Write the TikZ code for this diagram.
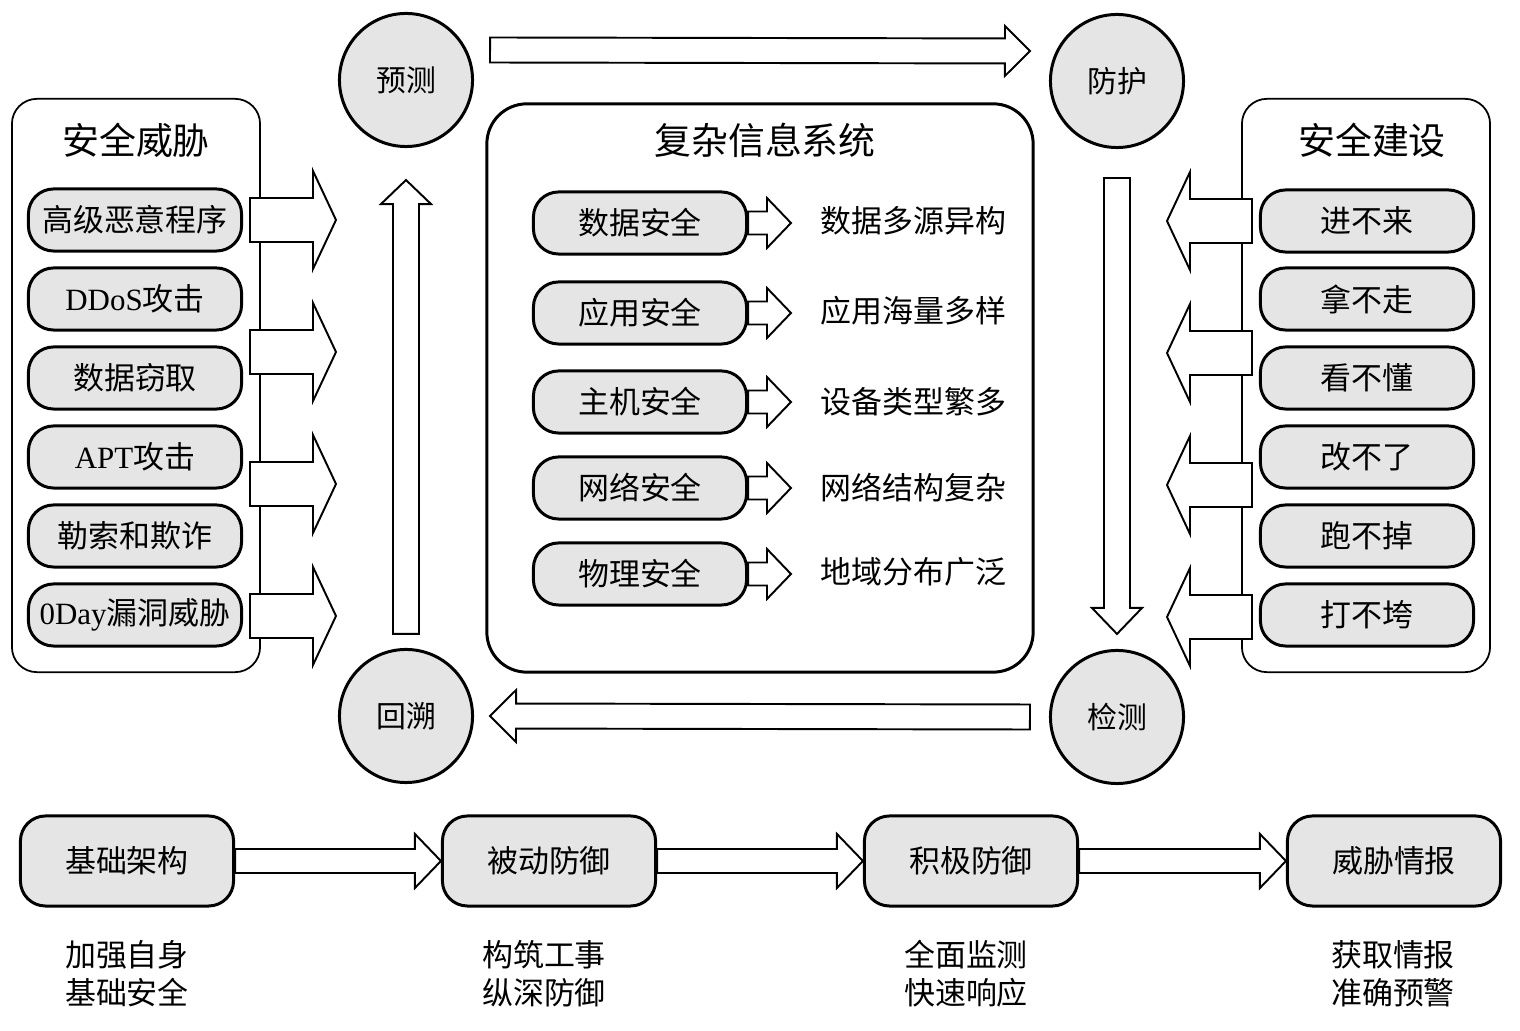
\documentclass[tikz,border=0pt]{standalone}
\usepackage{fontspec}
\setmainfont{Noto Sans CJK SC}
\newfontfamily\latinfont{Liberation Serif}
\usetikzlibrary{calc}
% block arrow from (#2) to (#3): shaft half width, head half width, head length
\def\blockarrow[#1](#2)(#3)(#4:#5:#6){\draw[#1] let \p1=(#2), \p2=(#3), \n1={veclen(\x2-\x1,\y2-\y1)}, \n2={(\x2-\x1)/\n1}, \n3={(\y2-\y1)/\n1} in ({\x1-\n3*#4},{\y1+\n2*#4}) -- ({\x2-\n2*#6-\n3*#4},{\y2-\n3*#6+\n2*#4}) -- ({\x2-\n2*#6-\n3*#5},{\y2-\n3*#6+\n2*#5}) -- (\p2) -- ({\x2-\n2*#6+\n3*#5},{\y2-\n3*#6-\n2*#5}) -- ({\x2-\n2*#6+\n3*#4},{\y2-\n3*#6-\n2*#4}) -- ({\x1+\n3*#4},{\y1-\n2*#4}) -- cycle;}
\tikzset{
	pill/.style={draw, line width=0.85pt, fill=black!10, rounded corners=0.25cm, minimum width=2.13cm, minimum height=0.62cm, inner sep=0pt, font=\fontsize{8.8}{10}\selectfont},
	stage/.style={pill, minimum height=0.9cm},
	phase/.style={circle, draw, line width=0.85pt, fill=black!10, minimum size=1.33cm, inner sep=0pt, font=\fontsize{8.5}{10}\selectfont},
	panel/.style={draw, line width=0.5pt, rounded corners=0.25cm, inner sep=0pt},
	barrow/.style={draw, line width=0.55pt, fill=white, line join=miter},
	headline/.style={inner sep=0pt, font=\fontsize{10.5}{12}\selectfont},
	note/.style={inner sep=0pt, font=\fontsize{8.8}{10.8}\selectfont}
}
\begin{document}
\begin{tikzpicture}[x=0.01cm, y=-0.01cm]
		%%%%% START %%%%%
		\useasboundingbox (0,0) rectangle (1520,1031);
		
		% frames
		\node[panel, minimum width=2.48cm, minimum height=5.73cm] (threat) at (136,385.5) {};
		\node[panel, minimum width=2.48cm, minimum height=5.73cm] (build) at (1366,385.5) {};
		\node[panel, line width=0.85pt, rounded corners=0.4cm, minimum width=5.46cm, minimum height=5.68cm] (system) at (760,388) {};
		\node[headline] (threattitle) at (136,140) {安全威胁};
		\node[headline] (buildtitle) at (1372,140) {安全建设};
		\node[headline] (systemtitle) at (765,140) {复杂信息系统};
		
		% cycle
		\node[phase] (predict) at (406,80) {预测};
		\node[phase] (protect) at (1117,81) {防护};
		\node[phase] (detect) at (1117,717) {检测};
		\node[phase] (trace) at (406,716) {回溯};
		
		\blockarrow[barrow]([shift={(16,-30)}]predict.east)([shift={(-19,-30)}]protect.west)(0.125cm:0.25cm:0.25cm);
		\blockarrow[barrow]([shift={(0,29)}]protect.south)([shift={(0,-15)}]detect.north)(0.13cm:0.25cm:0.26cm);
		\blockarrow[barrow]([shift={(-19,0)}]detect.west)([shift={(16,0)}]trace.east)(0.125cm:0.26cm:0.26cm);
		\blockarrow[barrow]([shift={(0,-14)}]trace.north)([shift={(0,32)}]predict.south)(0.13cm:0.25cm:0.24cm);
		
		% threats -> cycle
		\coordinate (la1) at (250,220); \coordinate (la1e) at (336,220);
		\coordinate (la2) at (250,352); \coordinate (la2e) at (336,352);
		\coordinate (la3) at (250,484); \coordinate (la3e) at (336,484);
		\coordinate (la4) at (250,616); \coordinate (la4e) at (336,616);
		\blockarrow[barrow](la1)(la1e)(0.22cm:0.49cm:0.23cm);
		\blockarrow[barrow](la2)(la2e)(0.22cm:0.49cm:0.23cm);
		\blockarrow[barrow](la3)(la3e)(0.22cm:0.49cm:0.23cm);
		\blockarrow[barrow](la4)(la4e)(0.22cm:0.49cm:0.23cm);
		
		% build -> cycle
		\coordinate (ra1) at (1252,221); \coordinate (ra1e) at (1167,221);
		\coordinate (ra2) at (1252,353); \coordinate (ra2e) at (1167,353);
		\coordinate (ra3) at (1252,485); \coordinate (ra3e) at (1167,485);
		\coordinate (ra4) at (1252,617); \coordinate (ra4e) at (1167,617);
		\blockarrow[barrow](ra1)(ra1e)(0.22cm:0.49cm:0.23cm);
		\blockarrow[barrow](ra2)(ra2e)(0.22cm:0.49cm:0.23cm);
		\blockarrow[barrow](ra3)(ra3e)(0.22cm:0.49cm:0.23cm);
		\blockarrow[barrow](ra4)(ra4e)(0.22cm:0.49cm:0.23cm);
		
		\node[pill] (t1) at (135,220) {高级恶意程序};
		\node[pill] (t2) at (135,299) {{\latinfont DDoS}攻击};
		\node[pill] (t3) at (135,378) {数据窃取};
		\node[pill] (t4) at (135,457) {{\latinfont APT}攻击};
		\node[pill] (t5) at (135,536) {勒索和欺诈};
		\node[pill] (t6) at (135,615) {{\latinfont 0Day}漏洞威胁};
		
		\node[pill] (b1) at (1367,221) {进不来};
		\node[pill] (b2) at (1367,299) {拿不走};
		\node[pill] (b3) at (1367,378) {看不懂};
		\node[pill] (b4) at (1367,457) {改不了};
		\node[pill] (b5) at (1367,536) {跑不掉};
		\node[pill] (b6) at (1367,615) {打不垮};
		
		% system layers
		\node[pill] (s1) at (640,223) {数据安全};
		\node[pill] (s2) at (640,313) {应用安全};
		\node[pill] (s3) at (640,402) {主机安全};
		\node[pill] (s4) at (640,488) {网络安全};
		\node[pill] (s5) at (640,574) {物理安全};
		\node[note, anchor=west] (f1) at (820,221) {数据多源异构};
		\node[note, anchor=west] (f2) at (820,311) {应用海量多样};
		\node[note, anchor=west] (f3) at (820,402) {设备类型繁多};
		\node[note, anchor=west] (f4) at (820,488) {网络结构复杂};
		\node[note, anchor=west] (f5) at (820,572) {地域分布广泛};
		\blockarrow[barrow](s1.east)([xshift=-0.29cm]f1.west |- s1)(0.115cm:0.25cm:0.24cm);
		\blockarrow[barrow](s2.east)([xshift=-0.29cm]f2.west |- s2)(0.115cm:0.25cm:0.24cm);
		\blockarrow[barrow](s3.east)([xshift=-0.29cm]f3.west |- s3)(0.115cm:0.25cm:0.24cm);
		\blockarrow[barrow](s4.east)([xshift=-0.29cm]f4.west |- s4)(0.115cm:0.25cm:0.24cm);
		\blockarrow[barrow](s5.east)([xshift=-0.29cm]f5.west |- s5)(0.115cm:0.25cm:0.24cm);
		
		% stages
		\node[stage] (p1) at (127,861) {基础架构};
		\node[stage] (p2) at (549,861) {被动防御};
		\node[stage] (p3) at (971,861) {积极防御};
		\node[stage] (p4) at (1394,861) {威胁情报};
		\blockarrow[barrow](p1.east)(p2.west)(0.12cm:0.27cm:0.26cm);
		\blockarrow[barrow](p2.east)(p3.west)(0.12cm:0.27cm:0.26cm);
		\blockarrow[barrow](p3.east)(p4.west)(0.12cm:0.27cm:0.26cm);
		\node[note, align=center] (n1) at (127,974) {加强自身\\基础安全};
		\node[note, align=center] (n2) at (544,974) {构筑工事\\纵深防御};
		\node[note, align=center] (n3) at (966,974) {全面监测\\快速响应};
		\node[note, align=center] (n4) at (1393,974) {获取情报\\准确预警};
		%%%%% END %%%%%
	\end{tikzpicture}
\end{document}
